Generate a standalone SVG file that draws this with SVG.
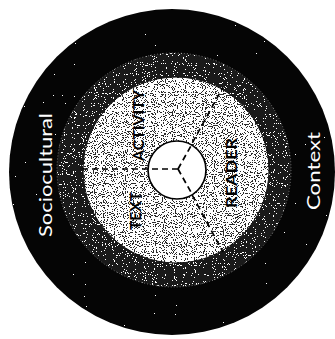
<svg xmlns="http://www.w3.org/2000/svg" width="335" height="339" viewBox="0 0 335 339">
  <defs>
    <filter id="spkOuter" x="0" y="0" width="1" height="1" color-interpolation-filters="sRGB">
      <feTurbulence type="fractalNoise" baseFrequency="0.9" numOctaves="1" seed="4" result="t"/>
      <feColorMatrix in="t" type="matrix" values="0 0 0 0 1  0 0 0 0 1  0 0 0 0 1  1 0 0 0 0" result="a"/>
      <feComponentTransfer in="a" result="th"><feFuncA type="discrete" tableValues="0 0 0 0 0 0 0 0 0 0 0 0 0 0 0 0 0 0 0 0 0 0 0 0 0 0 0 0 0 0 0 1 1 1 1 1 1 1 1 1"/></feComponentTransfer>
      <feComposite in="th" in2="SourceGraphic" operator="in" result="dots"/>
      <feMerge><feMergeNode in="SourceGraphic"/><feMergeNode in="dots"/></feMerge>
    </filter>
    <filter id="spkMid" x="0" y="0" width="1" height="1" color-interpolation-filters="sRGB">
      <feTurbulence type="fractalNoise" baseFrequency="0.9" numOctaves="1" seed="7" result="t"/>
      <feColorMatrix in="t" type="matrix" values="0 0 0 0 1  0 0 0 0 1  0 0 0 0 1  1 0 0 0 0" result="a"/>
      <feComponentTransfer in="a" result="th"><feFuncA type="discrete" tableValues="0 0 0 0 0 0 0 0 0 0 0 0 0 1 1 1 1 1 1 1"/></feComponentTransfer>
      <feComposite in="th" in2="SourceGraphic" operator="in" result="dots"/>
      <feMerge><feMergeNode in="SourceGraphic"/><feMergeNode in="dots"/></feMerge>
    </filter>
    <filter id="spkInner" x="0" y="0" width="1" height="1" color-interpolation-filters="sRGB">
      <feTurbulence type="fractalNoise" baseFrequency="0.9" numOctaves="1" seed="11" result="t"/>
      <feColorMatrix in="t" type="matrix" values="0 0 0 0 1  0 0 0 0 1  0 0 0 0 1  1 0 0 0 0" result="a"/>
      <feComponentTransfer in="a" result="th"><feFuncA type="discrete" tableValues="0 0 0 0 0 0 0 0 0 0 0 0 0 0 0 0 0 0 0 0 0 1 1 1 1 1 1 1 1 1 1 1 1 1 1 1 1 1 1 1 1 1 1 1 1 1 1 1 1 1"/></feComponentTransfer>
      <feComposite in="th" in2="SourceGraphic" operator="in" result="dots"/>
      <feMerge><feMergeNode in="SourceGraphic"/><feMergeNode in="dots"/></feMerge>
    </filter>
  </defs>
  <style>
    .lbl { font-family: Lato, "Open Sans", "Liberation Sans", sans-serif; }
    .out { fill: #ffffff; font-size: 17px; font-weight: 400; }
    .in { fill: #000000; font-size: 15px; font-weight: 700; }
    .dash { stroke: #000000; stroke-width: 1.7; stroke-dasharray: 6 4; fill: none; }
  </style>
  <rect width="335" height="339" fill="#ffffff"/>
  <g id="context">
    <circle cx="172" cy="172" r="163" fill="#050505" filter="url(#spkOuter)"/>
    <g transform="translate(52,237) rotate(-90)"><text class="lbl out" x="0" y="0" textLength="124" lengthAdjust="spacingAndGlyphs">Sociocultural</text></g>
    <g transform="translate(320,210) rotate(-90)"><text class="lbl out" x="0" y="0" textLength="78" lengthAdjust="spacingAndGlyphs">Context</text></g>
  </g>
  <g id="ring">
    <circle cx="174" cy="170" r="117" fill="#1a1a1a" filter="url(#spkMid)"/>
    <circle cx="174" cy="170" r="117" fill="none" stroke="#888888" stroke-width="0.8" stroke-dasharray="1 2"/>
  </g>
  <g id="field">
    <circle cx="176" cy="170" r="93" fill="#2a2a2a" filter="url(#spkInner)"/>
    <circle cx="176" cy="170" r="93" fill="none" stroke="#111111" stroke-width="1"/>
  </g>
  <g id="connectors">
    <line class="dash" x1="178" y1="169" x2="83" y2="169"/>
    <line class="dash" x1="178" y1="169" x2="223" y2="87"/>
    <line class="dash" x1="178" y1="169" x2="223" y2="252"/>
  </g>
  <g id="core">
    <circle cx="177" cy="170" r="29" fill="#ffffff" stroke="#000000" stroke-width="1.7"/>
    <line class="dash" x1="178" y1="169" x2="149" y2="169"/>
    <line class="dash" x1="178" y1="169" x2="192" y2="144"/>
    <line class="dash" x1="178" y1="169" x2="192" y2="194"/>
  </g>
  <g id="text-node" transform="translate(141,230) rotate(-90)"><text class="lbl in" x="0" y="0" textLength="38" lengthAdjust="spacingAndGlyphs">TEXT</text></g>
  <g id="activity-node" transform="translate(144,161) rotate(-90)"><text class="lbl in" x="0" y="0" textLength="71" lengthAdjust="spacingAndGlyphs">ACTIVITY</text></g>
  <g id="reader-node" transform="translate(237,208) rotate(-90)"><text class="lbl in" x="0" y="0" textLength="70" lengthAdjust="spacingAndGlyphs">READER</text></g>
</svg>
